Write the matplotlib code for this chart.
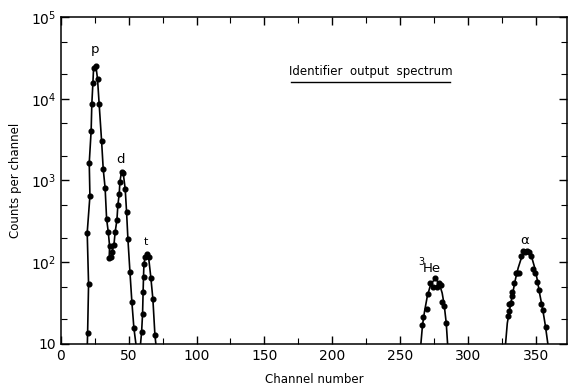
import matplotlib
matplotlib.use("Agg")
import matplotlib.pyplot as plt
from matplotlib.ticker import FixedLocator, FixedFormatter, NullFormatter

# ---- data ----
# p + d peaks (connected line through points)
pd_ch = [19.5, 19.7, 20.4, 19.4, 21.4, 20.9, 22.3, 22.8, 23.6, 24.1, 25.8, 27.0, 28.2,
         30.0, 31.2, 32.6, 33.7, 34.9, 35.9, 35.6, 36.8, 37.8, 39.1, 40.0, 41.3, 42.0,
         43.0, 43.5, 44.7, 45.9, 47.4, 48.4, 49.4, 50.9, 52.3, 53.8, 55.3]
pd_cnt = [10, 13.6, 54, 230, 646, 1640, 4040, 8630, 15600, 23800, 25100, 17500, 8630,
          3040, 1380, 809, 338, 236, 158, 113, 117, 135, 163, 234, 329, 501,
          684, 966, 1280, 1245, 787, 415, 192, 76, 33, 15.7, 10]
# t peak
t_ch = [58.7, 59.5, 60.2, 60.6, 60.9, 61.2, 62.1, 63.4, 64.6, 66.3, 67.8, 69.3, 70.0]
t_cnt = [10, 14.1, 23.3, 43.6, 66.5, 95, 116, 126, 117, 65, 35.5, 12.9, 10]

# 3He peak: measured points and drawn curve
he_ch = [266.0, 267.0, 269.5, 270.7, 271.9, 274.4, 275.6, 276.9, 278.3, 280.0, 280.8, 282.0, 283.7]
he_cnt = [17.1, 21.4, 26.6, 40.9, 55.7, 50.2, 63.7, 50.2, 55.7, 52.3, 32.2, 29.2, 18.1]
he_curve_ch = [265.3, 266.5, 268, 270, 272, 274, 275.5, 277, 279, 281, 282.5, 284, 285.0]
he_curve_cnt = [10, 17, 25, 38, 50, 58, 61, 60, 54, 42, 30, 18, 10]

# alpha peak: measured points and drawn curve
al_ch = [329.2, 330.0, 330.4, 331.4, 332.4, 332.6, 334.0, 335.1, 336.3, 337.3, 339.2, 340.7,
         342.2, 343.6, 345.1, 346.1, 347.6, 349.1, 350.6, 352.5, 353.7, 355.0, 357.4]
al_cnt = [22.2, 30.6, 25.5, 31.5, 38.7, 43.6, 56.2, 73.3, 73.3, 73.0, 119, 138,
          132, 138, 132, 119, 82, 73.3, 57.8, 45.8, 30.6, 26.1, 16.3]
al_curve_ch = [327.7, 329, 331, 333, 335, 337, 339, 341, 343, 345, 347, 349, 351, 353, 355, 357, 358.9]
al_curve_cnt = [10, 18, 28, 42, 62, 85, 108, 127, 137, 133, 115, 88, 62, 40, 27, 17, 10]

y_ticks = [10, 100, 1000, 10000, 100000]
y_labels = ['10', '10$^2$', '10$^3$', '10$^4$', '10$^5$']
x_ticks = [0, 50, 100, 150, 200, 250, 300, 350]

fig = plt.figure(figsize=(5.69, 3.85), dpi=100)
ax = fig.add_axes([0.107, 0.1065, 0.8895, 0.8495])

lk = dict(color='black', lw=1.2)
mk = dict(color='black', marker='o', ms=3.4, ls='none')
ax.plot(pd_ch, pd_cnt, **lk)
ax.plot(pd_ch[1:-1], pd_cnt[1:-1], **mk)
ax.plot(t_ch, t_cnt, **lk)
ax.plot(t_ch[1:-1], t_cnt[1:-1], **mk)
ax.plot(he_curve_ch, he_curve_cnt, **lk)
ax.plot(he_ch, he_cnt, **mk)
ax.plot(al_curve_ch, al_curve_cnt, **lk)
ax.plot(al_ch, al_cnt, **mk)

ax.set_yscale('log')
ax.set_xlim(0, 373)
ax.set_ylim(10, 100000)
ax.yaxis.set_major_locator(FixedLocator(y_ticks))
ax.yaxis.set_major_formatter(FixedFormatter(y_labels))
ax.yaxis.set_minor_locator(FixedLocator([20, 50, 200, 500, 2000, 5000, 20000, 50000]))
ax.yaxis.set_minor_formatter(NullFormatter())
ax.xaxis.set_major_locator(FixedLocator(x_ticks))
ax.xaxis.set_minor_locator(FixedLocator([25, 75, 125, 175, 225, 275, 325]))

ax.tick_params(which='both', direction='in', top=True, right=True, labelsize=10)
ax.tick_params(which='major', length=6, width=1)
ax.tick_params(which='minor', length=4, width=0.8)
for s in ax.spines.values():
    s.set_linewidth(1.1)

ax.set_xlabel('Channel number', fontsize=8.5, labelpad=7)
ax.set_ylabel('Counts per channel', fontsize=8.5, labelpad=6)

tk = dict(fontsize=9.5, ha='center', va='center')
ax.text(25, 39500, 'p', **tk)
ax.text(44.2, 1780, 'd', **tk)
ax.text(62.6, 177, 't', fontsize=8, ha='center', va='center')
ax.text(273.4, 85, 'He', **tk)
ax.text(265.5, 100, '3', fontsize=7, ha='center', va='center')
ax.text(342, 187, '\u03b1', **tk)

ax.text(0.612, 0.832, 'Identifier  output  spectrum', transform=ax.transAxes,
        fontsize=8.5, ha='center', va='center')
ax.plot([0.454, 0.768], [0.801, 0.801], transform=ax.transAxes, color='black', lw=1.0)

fig.savefig('out.png', dpi=100)
